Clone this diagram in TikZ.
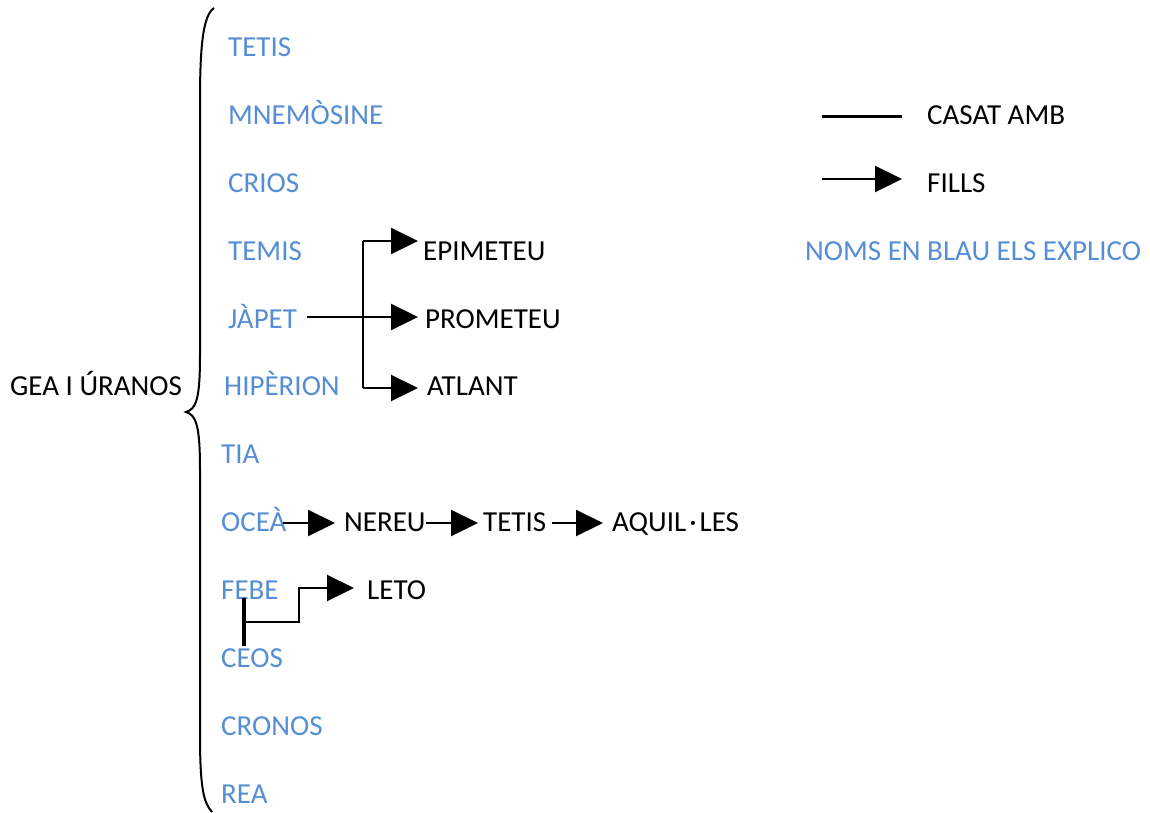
\documentclass[tikz,border=0pt]{standalone}
\usepackage{fontspec}
\setmainfont{Carlito}
\usetikzlibrary{arrows.meta}
\definecolor{nameblue}{RGB}{85,142,213}
\tikzset{
  lbl/.style={anchor=west,inner sep=0pt,text height=19pt,text depth=0pt,font=\fontsize{29}{34}\selectfont},
  god/.style={lbl,text=nameblue},
  kid/.style={lbl,text=black},
  conn/.style={line width=2.2pt},
  fillarrow/.style={conn,-{Triangle[length=27pt,width=26pt]}},
}
\begin{document}
\begin{tikzpicture}[x=1pt,y=-1pt]
\useasboundingbox (0,0) rectangle (1150,813);
% parents
\node[kid] (gea) at (10,386) {GEA I ÚRANOS};
% brace
\draw[line width=2pt] (214,8) .. controls (204,15) and (200,40) .. (200,100) -- (200,355)
  .. controls (200,400) and (196,409) .. (186,412)
  .. controls (196,415) and (200,425) .. (200,470) -- (200,735)
  .. controls (200,790) and (204,803) .. (212,812);
% children
\node[god] (tetis1) at (228,47) {TETIS};
\node[god] (mnem) at (228,115) {MNEMÒSINE};
\node[god] (crios) at (228,183) {CRIOS};
\node[god] (temis) at (228,251) {TEMIS};
\node[god] (japet) at (228,319) {JÀPET};
\node[god] (hiperion) at (224,386) {HIPÈRION};
\node[god] (tia) at (221,454) {TIA};
\node[god] (ocea) at (221,522) {OCEÀ};
\node[god] (febe) at (221,590) {FEBE};
\node[god] (ceos) at (221,658) {CEOS};
\node[god] (cronos) at (221,726) {CRONOS};
\node[god] (rea) at (221,794) {REA};
% grandchildren of Japet
\node[kid] (epimeteu) at (423,251) {EPIMETEU};
\node[kid] (prometeu) at (425,319) {PROMETEU};
\node[kid] (atlant) at (427,386) {ATLANT};
\coordinate (jfork) at (363,317);
\coordinate (jtop) at (363,241);
\coordinate (jbot) at (363,388);
\draw[conn] (jtop) -- (jbot);
\draw[fillarrow] (307,317) -- (418,317);
\draw[fillarrow] (jtop) -- (418,241);
\draw[fillarrow] (jbot) -- (418,388);
% Ocea line
\node[kid] (nereu) at (344,522) {NEREU};
\node[kid] (tetis2) at (483,522) {TETIS};
\node[kid] (aquil) at (612,522) {AQUIL\kern3pt·\kern3ptLES};
\draw[fillarrow] (283,523) -- (335,523);
\draw[fillarrow] (426,523) -- (478,523);
\draw[fillarrow] (552,523) -- (603,523);
% Febe + Ceos
\node[kid] (leto) at (367,590) {LETO};
\coordinate (fc1) at (244,598);
\coordinate (fc2) at (244,646);
\coordinate (fcm) at (244,622);
\draw[line width=3.5pt] (fc1) -- (fc2);
\draw[conn,-{Triangle[length=27pt,width=26pt]}] (fcm) -- (299,622) -- (299,588) -- (354,588);
% legend
\coordinate (l1a) at (822,117);
\coordinate (l1b) at (902,117);
\coordinate (l2a) at (822,179);
\coordinate (l2b) at (902,179);
\draw[line width=3pt] (l1a) -- (l1b);
\node[kid] (casat) at (927,115) {CASAT AMB};
\draw[fillarrow] (l2a) -- (l2b);
\node[kid] (fills) at (927,183) {FILLS};
\node[god] (noms) at (805,251) {NOMS EN BLAU ELS EXPLICO};
\end{tikzpicture}
\end{document}
